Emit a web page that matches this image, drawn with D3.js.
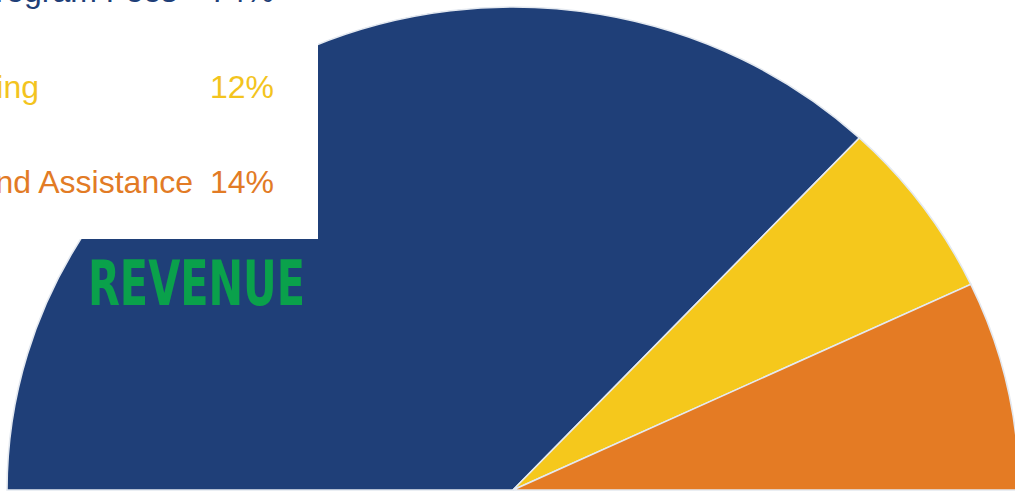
<!DOCTYPE html>
<html>
<head>
<meta charset="utf-8">
<script src="https://cdn.jsdelivr.net/npm/d3@7"></script>
<style>
  html, body { margin: 0; padding: 0; background: #fff; overflow: hidden; }
</style>
</head>
<body>
<div id="vis"></div>
<script>
// data
const categories = ["Program Fees", "Fundraising", "Grants and Assistance"];
const shares = [74, 12, 14];
const shareLabels = ["74%", "12%", "14%"];
const colors = ["#1f3f78", "#f5c81c", "#e47b24"];
const textColors = ["#1f3f78", "#f3c41e", "#e27b25"];

// where each category name ends (the names run off the left edge)
const nameEnds = [177, 39, 193];

const W = 1015, H = 493;

const svg = d3.select("#vis")
  .append("svg")
  .attr("width", W)
  .attr("height", H);

// half pie, slightly squashed vertically like the original picture
const rOuter = 506;
const pie = d3.pie()
  .sort(null)
  .startAngle(-Math.PI / 2)
  .endAngle(Math.PI / 2);

const arc = d3.arc()
  .innerRadius(0)
  .outerRadius(rOuter);

const pieG = svg.append("g")
  .attr("transform", `translate(513, 490) scale(1, ${483 / 506})`);

pieG.selectAll("path")
  .data(pie(shares))
  .enter()
  .append("path")
  .attr("d", arc)
  .attr("fill", (d, i) => colors[i])
  .attr("stroke", "#e4e9f0")
  .attr("stroke-width", 1.6);

// white legend panel over the top left of the pie
svg.append("rect")
  .attr("x", 0)
  .attr("y", 0)
  .attr("width", 318)
  .attr("height", 239)
  .attr("fill", "#fff");

const legend = svg.append("g");
const rowY = d3.scaleLinear().domain([0, 2]).range([2, 193]);

categories.forEach((c, i) => {
  legend.append("text")
    .attr("x", nameEnds[i])
    .attr("y", rowY(i))
    .attr("text-anchor", "end")
    .attr("font-family", "'Liberation Sans', Arial, sans-serif")
    .attr("font-size", "32px")
    .attr("fill", textColors[i])
    .text(c);

  legend.append("text")
    .attr("x", 274)
    .attr("y", rowY(i))
    .attr("text-anchor", "end")
    .attr("font-family", "'Liberation Sans', Arial, sans-serif")
    .attr("font-size", "32px")
    .attr("fill", textColors[i])
    .text(shareLabels[i]);
});

// title
svg.append("text")
  .attr("x", 88)
  .attr("y", 305)
  .attr("font-family", "'Liberation Sans Narrow', 'DejaVu Sans Condensed', sans-serif")
  .attr("font-weight", "bold")
  .attr("font-size", "62px")
  .attr("textLength", 217)
  .attr("lengthAdjust", "spacingAndGlyphs")
  .attr("fill", "#0aa14b")
  .text("REVENUE");
</script>
</body>
</html>
